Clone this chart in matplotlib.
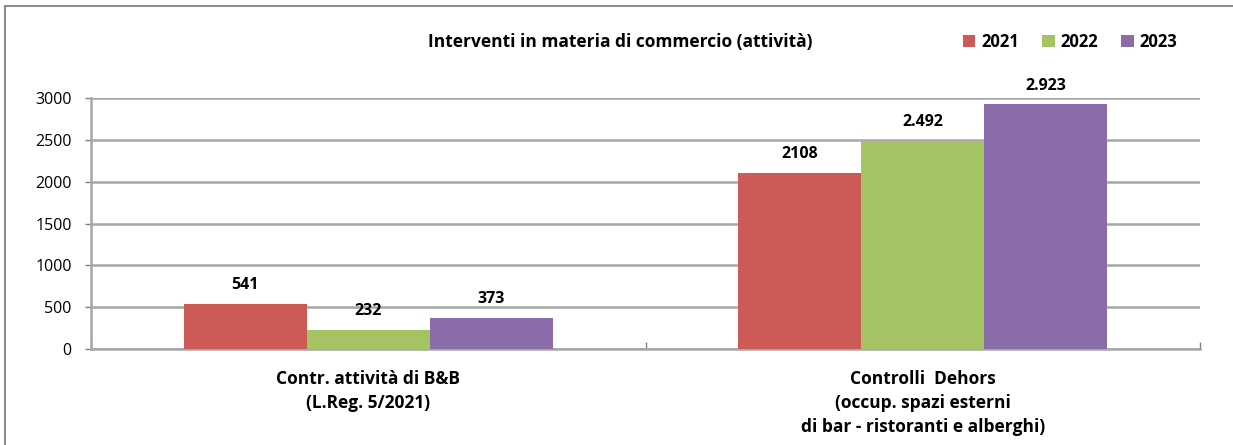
import numpy as np
import matplotlib
matplotlib.use('agg')
import matplotlib.pyplot as plt
from matplotlib.patches import Rectangle

categories = ["Contr. attività di B&B\n(L.Reg. 5/2021)",
              "Controlli  Dehors\n(occup. spazi esterni\ndi bar - ristoranti e alberghi)"]
years = ["2021", "2022", "2023"]
v2021 = [541, 2108]
v2022 = [232, 2492]
v2023 = [373, 2923]
labels2021 = ["541", "2108"]
labels2022 = ["232", "2.492"]
labels2023 = ["373", "2.923"]

colors = ["#CD5A56", "#A4C463", "#8A6CAB"]

plt.rcParams['font.family'] = ['Open Sans', 'DejaVu Sans']

fig = plt.figure(figsize=(12.33, 4.45), dpi=100)
ax = fig.add_axes([91/1233, 1 - 349/445, (1200 - 91)/1233, (349 - 98)/445])

# border round the figure
fig.patches.append(Rectangle((5/1233, -0.05), 1.2, 1 - 6/445 + 0.05, transform=fig.transFigure,
                             fill=False, edgecolor='#8c8c8c', linewidth=1.5))

x = np.arange(len(categories))
w = 0.222
series = [v2021, v2022, v2023]
texts = [labels2021, labels2022, labels2023]
for i, (vals, lab) in enumerate(zip(series, texts)):
    pos = x + (i - 1) * w
    ax.bar(pos, vals, width=w, color=colors[i], label=years[i], zorder=3)
    for p, v, t in zip(pos, vals, lab):
        ax.text(p, v + 225, t, ha='center', va='center', fontsize=11.5, fontweight='bold')

ax.set_xlim(-0.5, 1.5)
ax.set_ylim(0, 3000)
ax.set_yticks(np.arange(0, 3001, 500))
ax.yaxis.grid(True, color='#a6a6a6', linewidth=1.8, zorder=0)
ax.set_axisbelow(True)
ax.set_xticks([-0.5, 0.5, 1.5], minor=False)
ax.set_xticklabels([])
for c, lab in zip(x, categories):
    ax.text(c, -0.085, lab, transform=ax.get_xaxis_transform(), ha='center', va='top',
            fontsize=12.5, fontweight='bold', linespacing=1.4)

for s in ['top', 'right']:
    ax.spines[s].set_visible(False)
for s in ['left', 'bottom']:
    ax.spines[s].set_color('#a6a6a6')
    ax.spines[s].set_linewidth(1.8)
ax.tick_params(axis='both', color='#808080', length=4, width=1)
ax.tick_params(axis='y', labelsize=11.5, pad=10)
ax.tick_params(axis='x', direction='in', length=5)

fig.text(620/1233, 1 - 42/445, "Interventi in materia di commercio (attività)",
         ha='center', va='center', fontsize=12.5, fontweight='bold')

leg = fig.legend(loc='center', bbox_to_anchor=(1070/1233, 1 - 42/445), ncol=3, frameon=False,
                 prop={'weight': 'bold', 'size': 12}, handlelength=0.75, handleheight=0.75,
                 handletextpad=0.35, columnspacing=1.4)

plt.savefig('out.png', dpi=100)
